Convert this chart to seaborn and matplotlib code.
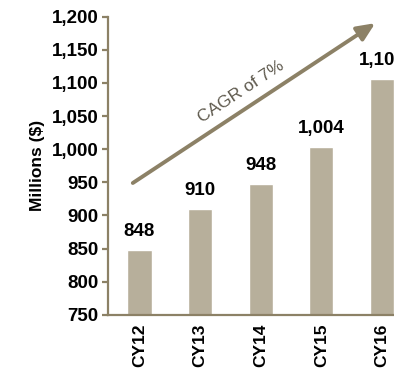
import matplotlib
matplotlib.use("Agg")
import matplotlib.pyplot as plt
import seaborn as sns
import pandas as pd

categories = ["CY12", "CY13", "CY14", "CY15", "CY16"]
values = [848, 910, 948, 1004, 1106]
value_labels = ["848", "910", "948", "1,004", "1,106"]
yticks = [750, 800, 850, 900, 950, 1000, 1050, 1100, 1150, 1200]
ytick_labels = ["750", "800", "850", "900", "950", "1,000", "1,050", "1,100", "1,150", "1,200"]
ylabel = "Millions ($)"
cagr_text = "CAGR of 7%"
arrow_start = (-0.11, 949)
arrow_end = (3.89, 1190)

sns.set_theme(style="white")
plt.rcParams['font.family'] = ['Liberation Sans', 'DejaVu Sans']

bar_color = "#B7AF9B"
axis_color = "#8C8166"

df = pd.DataFrame({"cat": categories, "val": values})
fig = plt.figure(figsize=(3.94, 3.77), dpi=100)
ax = fig.add_axes([0.274, 0.1645, 0.726, 0.7917])
sns.barplot(data=df, x="cat", y="val", color=bar_color, width=0.4, saturation=1, ax=ax)

ax.set_ylim(750, 1200)
ax.set_xlim(-0.52, 4.2)
ax.set_yticks(yticks)
ax.set_yticklabels(ytick_labels, fontsize=13.5, fontweight="bold", color="black")
ax.set_xticks(range(len(categories)))
ax.set_xticklabels(categories, rotation=90, fontsize=12.5, fontweight="bold", color="black")
ax.set_xlabel("")
ax.set_ylabel(ylabel, fontsize=12.5, fontweight="bold", color="black", labelpad=5)

for s in ["top", "right"]:
    ax.spines[s].set_visible(False)
for s in ["left", "bottom"]:
    ax.spines[s].set_color(axis_color)
    ax.spines[s].set_linewidth(1.6)
ax.tick_params(axis="y", length=4, width=1.6, color=axis_color, direction="out", left=True, pad=3)
ax.tick_params(axis="x", length=0, pad=6)

for i, (v, lab) in enumerate(zip(values, value_labels)):
    ax.annotate(lab, (i, v), xytext=(0, 7), textcoords="offset points",
                ha="center", va="bottom", fontsize=13.5, fontweight="bold",
                color="black", annotation_clip=False)

ax.annotate("", xy=arrow_end, xytext=arrow_start,
            arrowprops=dict(arrowstyle="-|>,head_length=0.9,head_width=0.4",
                            color=axis_color, lw=2.8, shrinkA=0, shrinkB=0),
            annotation_clip=False)
ax.text(1.68, 1087, cagr_text, rotation=33.5, rotation_mode="anchor",
        ha="center", va="center", fontsize=12.5, color="#5F5A4E")

fig.savefig("out.png", dpi=100)
